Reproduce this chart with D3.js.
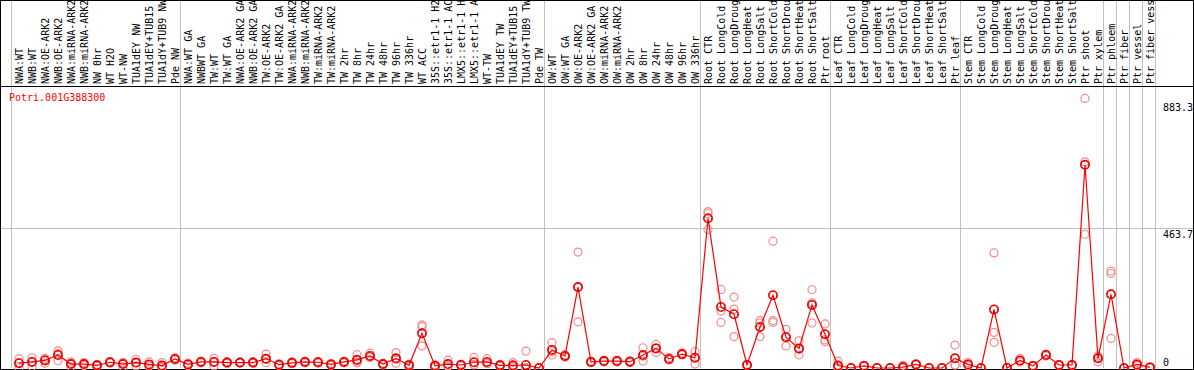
<!DOCTYPE html>
<html>
<head>
<meta charset="utf-8">
<script src="https://d3js.org/d3.v7.min.js"></script>
<style>
body { margin: 0; background: #fff; }
svg { display: block; }
text { font-family: "DejaVu Sans Mono", monospace; font-size: 10px; }
.grid { stroke: #c0c0c0; stroke-width: 1px; shape-rendering: crispEdges; }
</style>
</head>
<body>
<svg></svg>
<script>

var gene = "Potri.001G388300";

// sample names, in plot order
var samples = [
  "NWA:WT", "NWB:WT", "NWA:OE-ARK2", "NWB:OE-ARK2", "NWA:miRNA-ARK2", "NWB:miRNA-ARK2",
  "NW 0hr", "WT H2O", "WT-NW", "TUA1dEY NW", "TUA1dEY+TUB15 NW", "TUA1dY+TUB9 NW", "Pde NW",
  "NWA:WT GA", "NWBWT GA", "TW:WT", "TW:WT GA", "NWA:OE-ARK2 GA", "NWB:OE-ARK2 GA",
  "TW:OE-ARK2", "TW:OE-ARK2 GA", "NWA:miRNA-ARK2 GA", "NWB:miRNA-ARK2 GA", "TW:miRNA-ARK2",
  "TW:miRNA-ARK2 GA", "TW 2hr", "TW 8hr", "TW 24hr", "TW 48hr", "TW 96hr", "TW 336hr", "WT ACC",
  "35S::etr1-1 H2O", "35S::etr1-1 ACC", "LMX5::etr1-1 H2O", "LMX5::etr1-1 ACC", "WT-TW",
  "TUA1dEY TW", "TUA1dEY+TUB15 TW", "TUA1dY+TUB9 TW", "Pde TW",
  "OW:WT", "OW:WT GA", "OW:OE-ARK2", "OW:OE-ARK2 GA", "OW:miRNA-ARK2", "OW:miRNA-ARK2 GA",
  "OW 2hr", "OW 8hr", "OW 24hr", "OW 48hr", "OW 96hr", "OW 336hr",
  "Root CTR", "Root LongCold", "Root LongDrought", "Root LongHeat", "Root LongSalt",
  "Root ShortCold", "Root ShortDrought", "Root ShortHeat", "Root ShortSalt", "Ptr root",
  "Leaf CTR", "Leaf LongCold", "Leaf LongDrought", "Leaf LongHeat", "Leaf LongSalt",
  "Leaf ShortCold", "Leaf ShortDrought", "Leaf ShortHeat", "Leaf ShortSalt", "Ptr leaf",
  "Stem CTR", "Stem LongCold", "Stem LongDrought", "Stem LongHeat", "Stem LongSalt",
  "Stem ShortCold", "Stem ShortDrought", "Stem ShortHeat", "Stem ShortSalt", "Ptr shoot", "Ptr xylem",
  "Ptr phloem", "Ptr fiber", "Ptr vessel", "Ptr fiber vessel"
];

// number of samples in each experiment block
var groupSizes = [13, 28, 12, 10, 10, 11, 1, 1, 1, 1];

// mean expression per sample
var means = [
  16, 20, 25, 43, 13, 13, 9, 19, 13, 18, 12, 8, 30,
  12, 20, 20, 18, 18, 18, 31, 11, 17, 20, 19, 12, 20, 27, 40, 13, 32, 9, 115,
  7, 13, 10, 19, 20, 9, 9, 10, 0,
  60, 40, 268, 20, 23, 23, 21, 43, 65, 30, 46, 34,
  496, 202, 178, 10, 136, 241, 102, 65, 209, 112,
  8, 0, 7, 0, 0, 3, 12, 0, 0, 32,
  12, 0, 194, 0, 25, 7, 43, 10, 10, 673, 32,
  244, 0, 12, 2
];

// replicate values per sample
var reps = [
  [17, 0, 31], [21, 5, 34], [32, 16, 27], [57, 24, 48], [4, 15, 20], [8, 13, 18],
  [9, 6, 12], [19, 16, 22], [4, 16, 19], [29, 7, 18], [20, 6, 10], [18, 2, 4], [30, 26, 34],
  [12, 8, 16], [20, 17, 23], [32, 7, 21], [18, 15, 21], [18, 16, 20], [18, 15, 21],
  [46, 18, 29], [11, 8, 14], [17, 14, 20], [20, 17, 23], [19, 16, 22], [12, 9, 15],
  [20, 17, 23], [44, 20, 17], [49, 36, 35], [13, 10, 16], [51, 16, 29], [9, 5, 13],
  [143, 137, 73], [7, 3, 11], [26, 6, 7], [10, 7, 13], [35, 12, 10], [31, 14, 15],
  [9, 6, 12], [18, 5, 4], [56, 0, 0, 0, 0], [0, 0, 0],
  [84, 43, 53], [40, 36, 44], [384, 153, 267], [20, 17, 23], [23, 20, 26], [23, 20, 26],
  [21, 18, 24], [67, 23, 39], [78, 51, 66], [35, 27, 28], [46, 43, 49], [54, 13, 35],
  [518, 512, 459], [260, 189, 151], [235, 195, 104], [10, 8, 12], [157, 104, 149],
  [420, 157, 151], [128, 73, 105], [90, 43, 62], [260, 216, 149], [146, 93, 87],
  [23, 0, 1], [0, 0, 0], [7, 5, 9], [0, 0, 0], [0, 0, 0], [9, 0, 0], [12, 10, 14],
  [0, 0, 0], [0, 0, 0], [76, 10, 10],
  [18, 8, 10], [0, 0, 0], [381, 118, 85], [0, 0, 0], [32, 20, 23], [7, 5, 9],
  [43, 40, 46], [10, 8, 12], [10, 8, 12], [893, 683, 443], [21, 35, 40],
  [321, 313, 98], [0, 0, 0], [18, 8, 10], [2, 0, 4]
];

// labelled values on the right axis
var yTicks = [883.3, 463.7, 0];

var width = 1194, height = 370;
var headerBottom = 86;

var svg = d3.select("svg").attr("width", width).attr("height", height);

var x = d3.scaleBand().domain(samples).range([12.5, 1156.5]);
var y = d3.scaleLinear().domain([0, 463.7]).range([368, 228]);
function cx(d) { return x(d) + x.bandwidth() / 2; }

// block separators
var starts = [0];
groupSizes.forEach(function(s) { starts.push(starts[starts.length - 1] + s); });
svg.append("g").selectAll("line")
    .data(starts)
    .enter().append("line")
    .attr("class", "grid")
    .attr("x1", function(i) { return Math.round(12.5 + i * x.bandwidth()) - 1.5; })
    .attr("x2", function(i) { return Math.round(12.5 + i * x.bandwidth()) - 1.5; })
    .attr("y1", 0)
    .attr("y2", y(0));

// horizontal grid at middle tick
svg.append("line")
    .attr("class", "grid")
    .attr("x1", 0).attr("x2", width)
    .attr("y1", Math.round(y(463.7)) + 0.5)
    .attr("y2", Math.round(y(463.7)) + 0.5);

// frame and header line
svg.append("rect")
    .attr("x", 0.5).attr("y", 0.5)
    .attr("width", width - 1).attr("height", y(0) + 0.5)
    .style("fill", "none").style("stroke", "#000").style("shape-rendering", "crispEdges");
svg.append("line")
    .attr("x1", 0).attr("x2", width)
    .attr("y1", headerBottom + 0.5).attr("y2", headerBottom + 0.5)
    .style("stroke", "#000").style("shape-rendering", "crispEdges");

// sample labels
svg.append("g").selectAll("text")
    .data(samples)
    .enter().append("text")
    .attr("transform", function(d) { return "translate(" + (cx(d) + 4) + "," + (headerBottom - 2) + ") rotate(-90)"; })
    .style("fill", "#000")
    .text(function(d) { return d; });

// gene name
svg.append("text")
    .attr("x", 9).attr("y", 101)
    .style("fill", "#ff0000")
    .text(gene);

// y labels
svg.append("g").selectAll("text")
    .data(yTicks)
    .enter().append("text")
    .attr("x", 1163)
    .attr("y", function(d) { return d > 0 ? y(d) + 9.5 : y(d) - 2; })
    .style("fill", "#000")
    .text(function(d) { return d; });

// replicates
var repPts = [];
reps.forEach(function(r, i) {
    r.forEach(function(v) { repPts.push({ s: samples[i], v: v }); });
});
svg.append("g").selectAll("circle")
    .data(repPts)
    .enter().append("circle")
    .attr("cx", function(d) { return cx(d.s); })
    .attr("cy", function(d) { return y(d.v); })
    .attr("r", 4)
    .style("fill", "none")
    .style("stroke", "#f08c8c")
    .style("stroke-width", 1.2);

// mean line
var line = d3.line()
    .x(function(d, i) { return cx(samples[i]); })
    .y(function(d) { return y(d); });
svg.append("path")
    .datum(means)
    .attr("d", line)
    .style("fill", "none")
    .style("stroke", "#ff0000")
    .style("stroke-width", 1.2);

// mean markers
var mg = svg.append("g");
mg.selectAll("circle.m")
    .data(means)
    .enter().append("circle")
    .attr("class", "m")
    .attr("cx", function(d, i) { return cx(samples[i]); })
    .attr("cy", function(d) { return y(d); })
    .attr("r", 4.2)
    .style("fill", "none")
    .style("stroke", "#ff0000")
    .style("stroke-width", 1.6);
mg.selectAll("circle.k")
    .data(means)
    .enter().append("circle")
    .attr("class", "k")
    .attr("cx", function(d, i) { return cx(samples[i]); })
    .attr("cy", function(d) { return y(d); })
    .attr("r", 3.6)
    .style("fill", "none")
    .style("stroke", "#400000")
    .style("stroke-width", 0.6)
    .style("stroke-dasharray", "1.5 2.3");

</script>
</body>
</html>
